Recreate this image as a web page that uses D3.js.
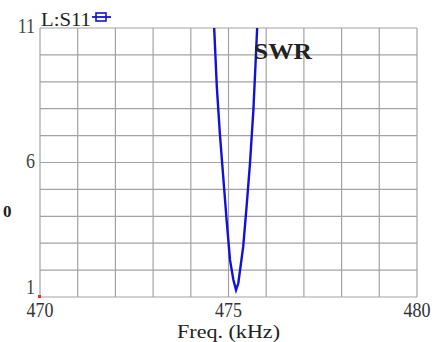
<!DOCTYPE html>
<html>
<head>
<meta charset="utf-8">
<script src="https://cdn.jsdelivr.net/npm/d3@7"></script>
<style>
  body { margin: 0; background: #fff; }
  svg { display: block; }
</style>
</head>
<body>
<svg id="chart" width="443" height="342"></svg>
<script>
// S11 SWR sweep
const freq = [474.62, 474.69, 474.77, 474.86, 474.95, 475.04, 475.13, 475.2, 475.26, 475.39, 475.48, 475.57, 475.66, 475.73, 475.76];
const swr = [11, 8.82, 7.09, 5.47, 3.86, 2.38, 1.63, 1.26, 1.51, 2.87, 4.36, 5.97, 7.95, 10.06, 11];
const xTicks = [470, 475, 480];
const yTicks = [1, 6, 11];
const xGrid = d3.range(470, 481, 1);
const yGrid = d3.range(1, 12, 1);

const svg = d3.select("#chart");
const margin = { top: 28, right: 26, bottom: 45, left: 40 };
const width = 443 - margin.left - margin.right;
const height = 342 - margin.top - margin.bottom;

const x = d3.scaleLinear().domain([470, 480]).range([0, width]);
const y = d3.scaleLinear().domain([1, 11]).range([height, 0]);

const g = svg.append("g").attr("transform", `translate(${margin.left},${margin.top})`);

// grid
g.selectAll(".vgrid").data(xGrid).enter().append("line")
  .attr("x1", d => x(d)).attr("x2", d => x(d))
  .attr("y1", 0).attr("y2", height)
  .attr("stroke", "#a3a3a3").attr("stroke-width", 1.2);
g.selectAll(".hgrid").data(yGrid).enter().append("line")
  .attr("x1", 0).attr("x2", width)
  .attr("y1", d => y(d)).attr("y2", d => y(d))
  .attr("stroke", "#a3a3a3").attr("stroke-width", 1.2);

// tick labels
const tickFont = "'Liberation Serif', 'DejaVu Serif', serif";
g.selectAll(".xt").data(xTicks).enter().append("text")
  .attr("transform", d => `translate(${x(d)},${height + 20}) scale(1,1.22)`)
  .attr("text-anchor", "middle")
  .style("font-family", tickFont).style("font-size", "18px").style("fill", "#333")
  .text(d => d);
// lowest label sits just above the axis line, like the reference
g.selectAll(".yt").data(yTicks).enter().append("text")
  .attr("transform", d => `translate(-5,${y(d) + (d === 1 ? -3 : 5)}) scale(1,1.2)`)
  .attr("text-anchor", "end")
  .style("font-family", tickFont).style("font-size", "18px").style("fill", "#444")
  .text(d => d);

// axis title
g.append("text")
  .attr("transform", `translate(${width / 2},${height + 41}) scale(1,1.12)`)
  .attr("text-anchor", "middle")
  .attr("textLength", 103).attr("lengthAdjust", "spacingAndGlyphs")
  .style("font-family", tickFont).style("font-size", "17px").style("fill", "#222")
  .text("Freq. (kHz)");

// curve
svg.append("clipPath").attr("id", "clip")
  .append("rect").attr("width", width).attr("height", height);
const line = d3.line().x((d, i) => x(freq[i])).y(d => y(d));
g.append("path")
  .datum(swr)
  .attr("clip-path", "url(#clip)")
  .attr("d", line)
  .attr("fill", "none")
  .attr("stroke", "#1212d6")
  .attr("stroke-width", 2.4);

// red marker at origin
g.append("rect").attr("x", -2).attr("y", height - 2).attr("width", 3).attr("height", 3).attr("fill", "#e03030");

// legend / labels
svg.append("text")
  .attr("transform", "translate(41,26) scale(1,1.2)")
  .attr("textLength", 50).attr("lengthAdjust", "spacingAndGlyphs")
  .style("font-family", tickFont).style("font-size", "15px").style("fill", "#222")
  .text("L:S11");
svg.append("line").attr("x1", 92).attr("x2", 111).attr("y1", 17).attr("y2", 17)
  .attr("stroke", "#1212d6").attr("stroke-width", 1.8);
svg.append("rect").attr("x", 96).attr("y", 13).attr("width", 10).attr("height", 8)
  .attr("fill", "none").attr("stroke", "#1212d6").attr("stroke-width", 1.6);

svg.append("text")
  .attr("x", 254).attr("y", 59)
  .attr("textLength", 58).attr("lengthAdjust", "spacingAndGlyphs")
  .style("font-family", tickFont).style("font-size", "24px").style("font-weight", "bold").style("fill", "#222")
  .text("SWR");
svg.append("text")
  .attr("x", 3).attr("y", 217)
  .style("font-family", tickFont).style("font-size", "17px").style("font-weight", "bold").style("fill", "#222")
  .text("0");
</script>
</body>
</html>
